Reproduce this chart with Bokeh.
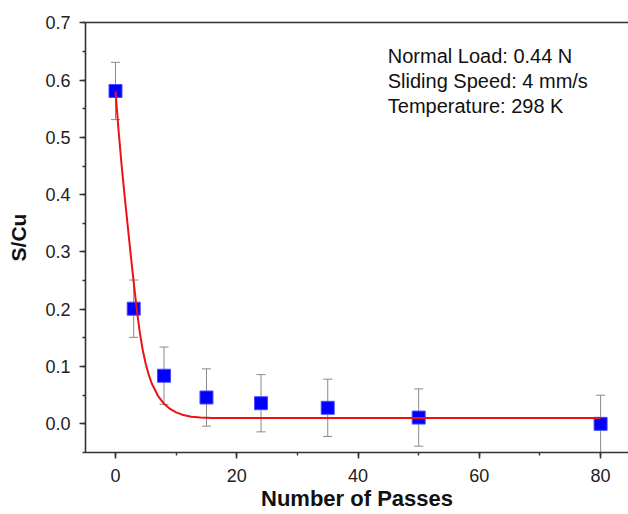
from bokeh.plotting import figure
from bokeh.models import (Range1d, SingleIntervalTicker, NumeralTickFormatter, LinearAxis,
                          FixedTicker, Whisker, TeeHead, ColumnDataSource, Label)
from bokeh.embed import file_html
from bokeh.resources import INLINE

# Data
passes = [0, 3, 8, 15, 24, 35, 50, 80]
s_cu = [0.581, 0.201, 0.084, 0.046, 0.036, 0.028, 0.011, 0.0]
s_cu_err = [0.05, 0.05, 0.05, 0.05, 0.05, 0.05, 0.05, 0.05]

# Fitted curve, points
fit_x = [0, 0.5, 1, 1.5, 2, 2.5, 3, 3.5, 4, 4.5, 5, 5.5, 6, 7, 8, 9, 10, 11, 12.5, 14, 16, 20, 80]
fit_y = [0.58, 0.512, 0.452, 0.398, 0.347, 0.296, 0.247, 0.200, 0.160, 0.128, 0.104, 0.085,
         0.070, 0.049, 0.035, 0.026, 0.020, 0.016, 0.0125, 0.011, 0.0103, 0.010, 0.010]

notes = ["Normal Load: 0.44 N", "Sliding Speed: 4 mm/s", "Temperature: 298 K"]
note_y = [0.6425, 0.5985, 0.554]
note_x = 44.9

x_title = "Number of Passes"
y_title = "S/Cu"

FONT = "Liberation Sans"
AXC = "#333333"

p = figure(width=628, height=514, output_backend="svg", toolbar_location=None,
           x_range=Range1d(-4.95, 84.6), y_range=Range1d(-0.05, 0.7005),
           min_border_left=85, min_border_right=0, min_border_top=22, min_border_bottom=62)
p.outline_line_color = None
p.grid.grid_line_color = None
p.background_fill_color = "white"

src = ColumnDataSource(dict(x=passes, y=s_cu,
                            lo=[v - e for v, e in zip(s_cu, s_cu_err)],
                            hi=[v + e for v, e in zip(s_cu, s_cu_err)]))

w = Whisker(source=src, base="x", upper="hi", lower="lo",
            line_color="#8a8a8a", line_width=1,
            upper_head=TeeHead(size=9, line_color="#8a8a8a", line_width=1),
            lower_head=TeeHead(size=9, line_color="#8a8a8a", line_width=1))
p.add_layout(w)

p.scatter("x", "y", source=src, marker="square", size=13,
          fill_color="#0000ff", line_color="#4a4aff", line_width=1)
p.line(fit_x, fit_y, line_color="#ee1111", line_width=2)

for t, yy in zip(notes, note_y):
    p.add_layout(Label(x=note_x, y=yy, text=t, text_font=FONT, text_font_size="20px",
                       text_color="#111111", text_baseline="alphabetic"))

xa = p.xaxis[0]
xa.ticker = SingleIntervalTicker(interval=20, num_minor_ticks=2)
ya = p.yaxis[0]
ya.ticker = SingleIntervalTicker(interval=0.1, num_minor_ticks=2)
ya.formatter = NumeralTickFormatter(format="0.0")

xa.axis_label = x_title
ya.axis_label = y_title
for ax in (xa, ya):
    ax.axis_line_color = AXC
    ax.axis_line_width = 1.6
    ax.major_tick_line_color = AXC
    ax.minor_tick_line_color = AXC
    ax.major_tick_line_width = 1.6
    ax.minor_tick_line_width = 1.4
    ax.major_tick_out = 6
    ax.major_tick_in = 0
    ax.minor_tick_out = 3
    ax.minor_tick_in = 0
    ax.major_label_text_font = FONT
    ax.major_label_text_font_size = "18px"
    ax.major_label_text_color = "#222222"
    ax.major_label_standoff = 9
    ax.axis_label_text_font = FONT
    ax.axis_label_text_font_style = "bold"
    ax.axis_label_text_color = "#111111"
xa.axis_label_text_font_size = "22px"
ya.axis_label_text_font_size = "21px"
ya.axis_label_standoff = 12
xa.major_label_standoff = 10
xa.axis_label_standoff = 1

top = LinearAxis(ticker=FixedTicker(ticks=[]), axis_line_color=AXC, axis_line_width=1.6,
                 major_label_text_font_size="0px")
p.add_layout(top, "above")

open("out.html", "w").write(file_html(p, INLINE))
